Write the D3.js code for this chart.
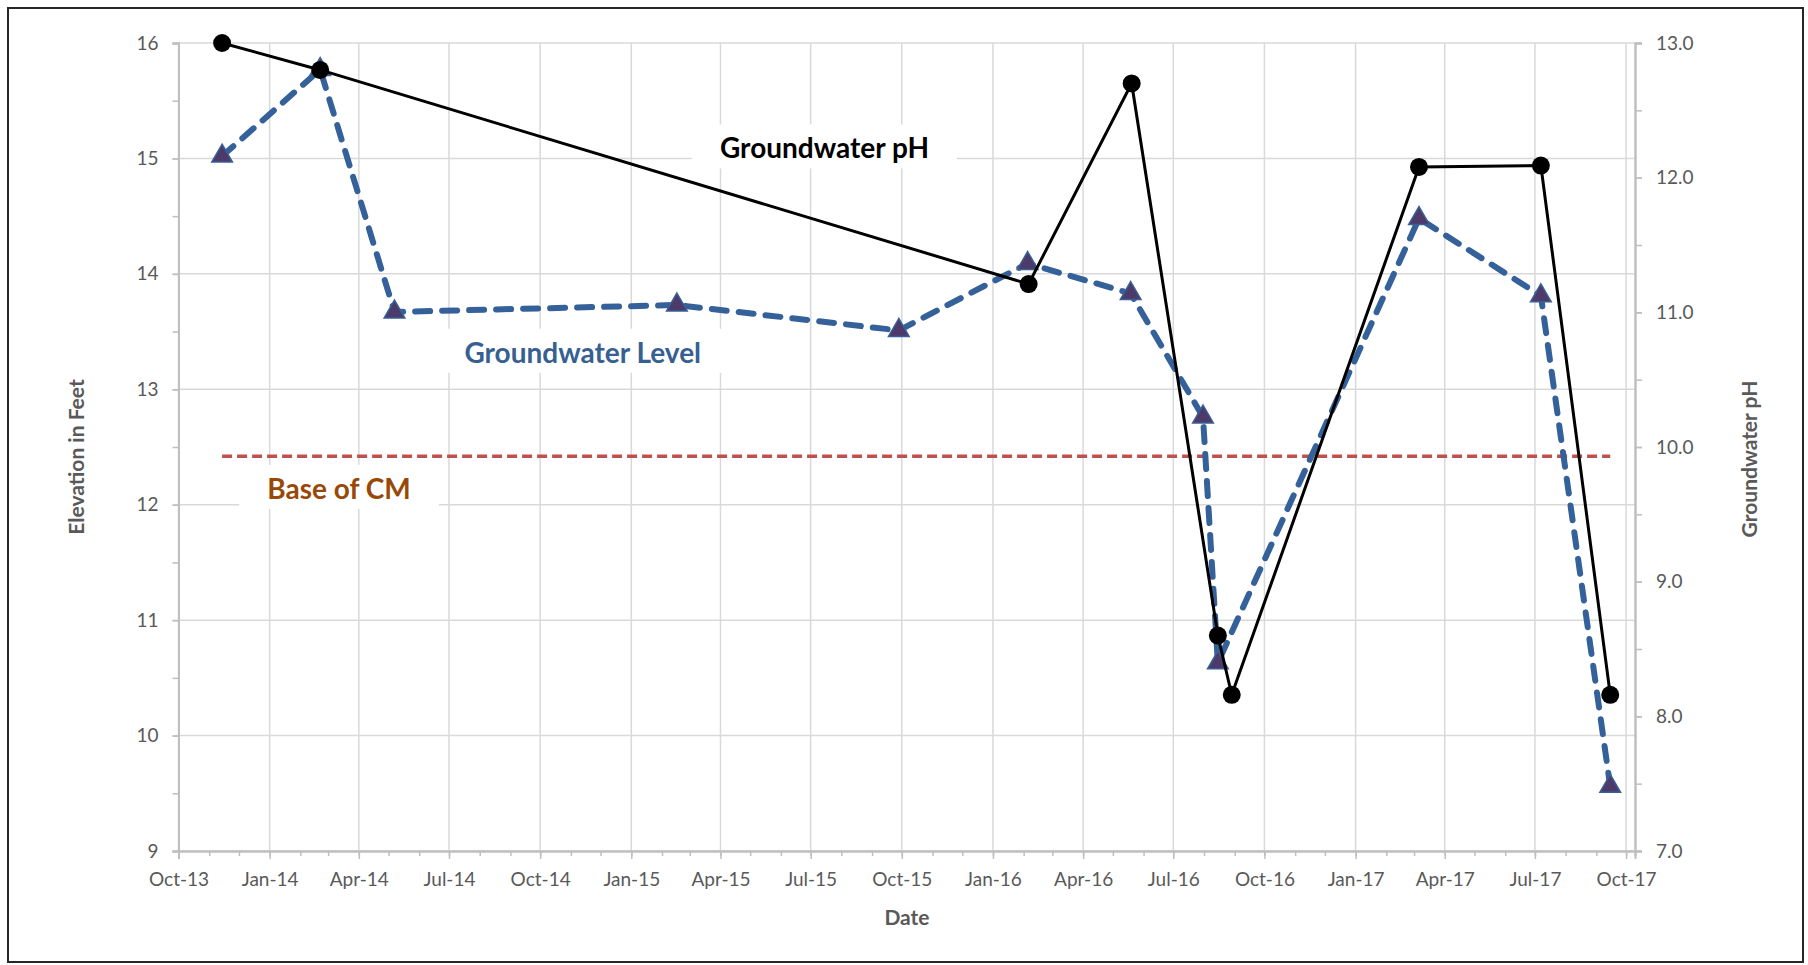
<!DOCTYPE html>
<head>
  <meta charset="utf-8">
  <script src="https://d3js.org/d3.v7.min.js"></script>
  <style>
    body { margin: 0; background: white; }
    text { font-family: Lato, "Open Sans", sans-serif; }
    .tick text { fill: #595959; font-size: 19px; }
    .title { fill: #595959; font-size: 21px; font-weight: bold; }
    .note { font-size: 28px; font-weight: bold; }
  </style>
</head>

<body>
  <svg width="1808" height="965"></svg>

  <script>
    // sample dates and values
    const levelDates = ['2013-11-14', '2014-02-21', '2014-05-07', '2015-02-16', '2015-09-28', '2016-02-05',
                        '2016-05-19', '2016-07-31', '2016-08-15', '2017-03-06', '2017-07-07', '2017-09-15'];
    const levelValues = [15.02, 15.77, 13.67, 13.73, 13.51, 14.09, 13.83, 12.76, 10.63, 14.48, 13.81, 9.56];

    const phDates = ['2013-11-14', '2014-02-21', '2016-02-06', '2016-05-20', '2016-08-15', '2016-08-29',
                     '2017-03-06', '2017-07-07', '2017-09-15'];
    const phValues = [13.0, 12.80, 11.21, 12.70, 8.60, 8.16, 12.08, 12.09, 8.16];

    const baseOfCM = 12.42;
    const dateDomain = ['2013-10-01', '2017-10-10'];
    const levelTicks = [9, 10, 11, 12, 13, 14, 15, 16];
    const phTicks = [7, 8, 9, 10, 11, 12, 13];

    const notes = [
      { text: 'Groundwater pH', date: '2015-07-15', value: 15.0, color: '#000000' },
      { text: 'Groundwater Level', date: '2014-11-13', value: 13.23, color: '#376092' },
      { text: 'Base of CM', date: '2014-03-12', value: 12.05, color: '#984807' }
    ];

    const parse = d3.timeParse('%Y-%m-%d');
    const svg = d3.select('svg');

    const plot = { left: 178.5, right: 1635, top: 43, bottom: 851 };

    const x = d3.scaleTime().domain(dateDomain.map(parse)).range([plot.left, plot.right]);
    const yL = d3.scaleLinear().domain([9, 16]).range([plot.bottom, plot.top]);
    const yR = d3.scaleLinear().domain([7, 13]).range([plot.bottom, plot.top]);

    const quarters = d3.timeMonth.every(3).range(parse('2013-10-01'), parse('2017-10-05'));
    const months = d3.timeMonth.range(parse('2013-10-01'), parse('2017-10-05'));

    // frame
    svg.append('rect')
      .attr('x', 8).attr('y', 8).attr('width', 1795).attr('height', 954)
      .attr('fill', 'white').attr('stroke', '#262626').attr('stroke-width', 2);

    // gridlines
    const grid = svg.append('g').attr('stroke', '#d9d9d9').attr('stroke-width', 1.5);
    grid.selectAll('.h').data(levelTicks).enter().append('line')
      .attr('x1', plot.left).attr('x2', plot.right)
      .attr('y1', d => yL(d)).attr('y2', d => yL(d));
    grid.selectAll('.v').data(quarters).enter().append('line')
      .attr('x1', d => x(d)).attr('x2', d => x(d))
      .attr('y1', plot.top).attr('y2', plot.bottom);

    // white boxes behind notes
    const noteG = svg.append('g');
    const noteText = noteG.selectAll('text').data(notes).enter().append('text')
      .attr('class', 'note')
      .attr('x', d => x(parse(d.date)))
      .attr('y', d => yL(d.value))
      .attr('text-anchor', 'middle')
      .attr('fill', d => d.color)
      .text(d => d.text);
    noteText.each(function () {
      const b = this.getBBox();
      noteG.insert('rect', 'text')
        .attr('x', b.x - 28).attr('y', b.y - 6)
        .attr('width', b.width + 56).attr('height', b.height + 10)
        .attr('fill', 'white');
    });

    // axes
    const axisStyle = g => {
      g.select('.domain').attr('stroke', '#bfbfbf').attr('stroke-width', 2);
      g.selectAll('.tick line').attr('stroke', '#bfbfbf').attr('stroke-width', 1.5);
    };

    const minorX = svg.append('g').attr('transform', `translate(0,${plot.bottom})`)
      .call(d3.axisBottom(x).tickValues(months).tickSize(5).tickFormat(''));
    axisStyle(minorX);
    const xAxis = svg.append('g').attr('transform', `translate(0,${plot.bottom})`)
      .call(d3.axisBottom(x).tickValues(quarters).tickSize(8).tickPadding(14)
        .tickFormat(d3.timeFormat('%b-%y')));
    axisStyle(xAxis);

    const halfL = d3.range(9, 16.01, 0.5);
    const minorL = svg.append('g').attr('transform', `translate(${plot.left},0)`)
      .call(d3.axisLeft(yL).tickValues(halfL).tickSize(6).tickFormat(''));
    axisStyle(minorL);
    const yAxisL = svg.append('g').attr('transform', `translate(${plot.left},0)`)
      .call(d3.axisLeft(yL).tickValues(levelTicks).tickSize(6).tickPadding(14).tickFormat(d3.format('d')));
    axisStyle(yAxisL);

    const halfR = d3.range(7, 13.01, 0.5);
    const minorR = svg.append('g').attr('transform', `translate(${plot.right},0)`)
      .call(d3.axisRight(yR).tickValues(halfR).tickSize(7).tickFormat(''));
    axisStyle(minorR);
    const yAxisR = svg.append('g').attr('transform', `translate(${plot.right},0)`)
      .call(d3.axisRight(yR).tickValues(phTicks).tickSize(7).tickPadding(14).tickFormat(d3.format('.1f')));
    axisStyle(yAxisR);

    svg.selectAll('g[font-family]').attr('font-family', null).attr('font-size', null);

    // base of CM line
    svg.append('line')
      .attr('x1', x(parse(levelDates[0]))).attr('x2', x(parse(levelDates[levelDates.length - 1])))
      .attr('y1', yL(baseOfCM)).attr('y2', yL(baseOfCM))
      .attr('stroke', '#c0504d').attr('stroke-width', 3.5)
      .attr('stroke-dasharray', '10,5');

    // groundwater level
    const level = levelDates.map((d, i) => ({ date: parse(d), v: levelValues[i] }));
    svg.append('path').datum(level)
      .attr('fill', 'none').attr('stroke', '#35619a').attr('stroke-width', 6)
      .attr('stroke-dasharray', '15,12').attr('stroke-linecap', 'round')
      .attr('d', d3.line().x(d => x(d.date)).y(d => yL(d.v)));
    svg.selectAll('.tri').data(level).enter().append('path')
      .attr('class', 'tri')
      .attr('transform', d => `translate(${x(d.date)},${yL(d.v)})`)
      .attr('d', d3.symbol(d3.symbolTriangle, 185))
      .attr('fill', '#4b3a6a').attr('stroke', '#3a5f95').attr('stroke-width', 1.5);

    // groundwater pH
    const ph = phDates.map((d, i) => ({ date: parse(d), v: phValues[i] }));
    svg.append('path').datum(ph)
      .attr('fill', 'none').attr('stroke', 'black').attr('stroke-width', 3)
      .attr('d', d3.line().x(d => x(d.date)).y(d => yR(d.v)));
    svg.selectAll('.dot').data(ph).enter().append('circle')
      .attr('class', 'dot')
      .attr('cx', d => x(d.date)).attr('cy', d => yR(d.v)).attr('r', 9)
      .attr('fill', 'black');

    // axis titles
    const midY = (plot.top + plot.bottom) / 2;
    svg.append('text').attr('class', 'title')
      .attr('transform', `translate(84,${midY + 10}) rotate(-90)`)
      .attr('text-anchor', 'middle').text('Elevation in Feet');
    svg.append('text').attr('class', 'title')
      .attr('transform', `translate(1757,${midY + 12}) rotate(-90)`)
      .attr('text-anchor', 'middle').text('Groundwater pH');
    svg.append('text').attr('class', 'title')
      .attr('x', 907).attr('y', 925)
      .attr('text-anchor', 'middle').text('Date');
  </script>
</body>
